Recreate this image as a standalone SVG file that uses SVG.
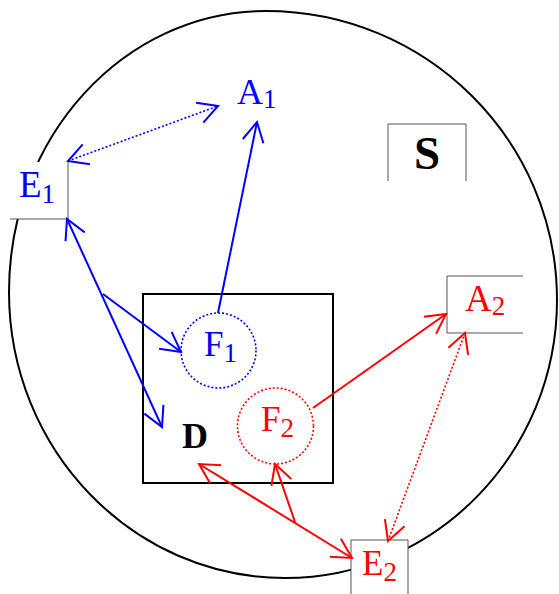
<svg xmlns="http://www.w3.org/2000/svg" width="559" height="594" viewBox="0 0 559 594">
<defs>
<style>
.lbl{font-family:"Liberation Serif","Times New Roman",serif;}
.blue{fill:#0000ff;}
.red{fill:#ff0000;}
.sub{font-size:27px;}
.bl{stroke:#0000ff;stroke-width:2;fill:none;}
.rl{stroke:#ff0000;stroke-width:2;fill:none;}
.dot{stroke-width:1.6;stroke-dasharray:2 2;}
.edge{stroke:#555;stroke-width:1;fill:none;}
</style>
<marker id="ab" viewBox="-22 -13 24 26" refX="0" refY="0" markerWidth="24" markerHeight="26" markerUnits="userSpaceOnUse" orient="auto-start-reverse">
<path d="M-19.5,-10.5 L0,0 L-19.5,10.5" fill="none" stroke="#0000ff" stroke-width="2"/>
</marker>
<marker id="ar" viewBox="-22 -13 24 26" refX="0" refY="0" markerWidth="24" markerHeight="26" markerUnits="userSpaceOnUse" orient="auto-start-reverse">
<path d="M-19.5,-10.5 L0,0 L-19.5,10.5" fill="none" stroke="#ff0000" stroke-width="2"/>
</marker>
</defs>
<rect width="559" height="594" fill="#fff"/>
<g id="S-region">
<path d="M9,292 C9,137 124,11 266,11 C426,11 557,140 557,300 C557,453 435,578 285,578 C133,578 9,450 9,292 Z" fill="none" stroke="#000" stroke-width="2"/>
</g>
<g id="S">
<rect x="388" y="124" width="78" height="57" fill="#fff"/>
<path class="edge" d="M388,181 V124 H466 V181"/>
<text class="lbl" x="427" y="169" text-anchor="middle" font-size="47" font-weight="bold">S</text>
</g>
<g id="D">
<rect x="143" y="294" width="190" height="189" fill="none" stroke="#000" stroke-width="2"/>
<text class="lbl" x="195" y="448" text-anchor="middle" font-size="36" font-weight="bold">D</text>
</g>
<g id="F1">
<circle cx="218.5" cy="350.5" r="37.5" fill="none" stroke="#0000ff" stroke-width="1.6" stroke-dasharray="2 2"/>
<text class="lbl blue" x="204" y="356" font-size="35">F<tspan class="sub" dy="6">1</tspan></text>
</g>
<g id="F2">
<circle cx="275.5" cy="426" r="38" fill="none" stroke="#ff0000" stroke-width="1.6" stroke-dasharray="2 2"/>
<text class="lbl red" x="261" y="431" font-size="35">F<tspan class="sub" dy="6">2</tspan></text>
</g>
<g id="E1">
<rect x="10" y="162" width="58" height="57" fill="#fff"/>
<path class="edge" d="M68,162 V219 H10"/>
<text class="lbl blue" x="19" y="197" font-size="37">E<tspan class="sub" dy="6">1</tspan></text>
</g>
<g id="A1">
<text class="lbl blue" x="237" y="104" font-size="36">A<tspan class="sub" dy="4">1</tspan></text>
</g>
<g id="A2">
<rect x="447" y="276" width="76" height="57" fill="#fff"/>
<path class="edge" d="M523,276 H447 V333 H523"/>
<text class="lbl red" x="465" y="311" font-size="37">A<tspan class="sub" dy="4">2</tspan></text>
</g>
<g id="E2">
<rect x="351" y="540" width="57" height="54" fill="#fff"/>
<path class="edge" d="M351,594 V540 H408 V594"/>
<text class="lbl red" x="362" y="575" font-size="35">E<tspan class="sub" dy="6">2</tspan></text>
</g>
<g id="connectors">
<line class="bl dot" x1="68" y1="161" x2="218" y2="106" marker-start="url(#ab)" marker-end="url(#ab)"/>
<line class="bl" x1="218" y1="313" x2="257" y2="122" marker-end="url(#ab)"/>
<line class="bl" x1="67" y1="219" x2="162" y2="427" marker-start="url(#ab)" marker-end="url(#ab)"/>
<line class="bl" x1="103" y1="294" x2="181" y2="352" marker-end="url(#ab)"/>
<line class="rl" x1="313" y1="408" x2="446" y2="314" marker-end="url(#ar)"/>
<line class="rl dot" x1="465" y1="333" x2="388" y2="541" marker-start="url(#ar)" marker-end="url(#ar)"/>
<line class="rl" x1="352" y1="558" x2="199" y2="464" marker-start="url(#ar)" marker-end="url(#ar)"/>
<line class="rl" x1="295" y1="522" x2="275" y2="464" marker-end="url(#ar)"/>
</g>
</svg>
